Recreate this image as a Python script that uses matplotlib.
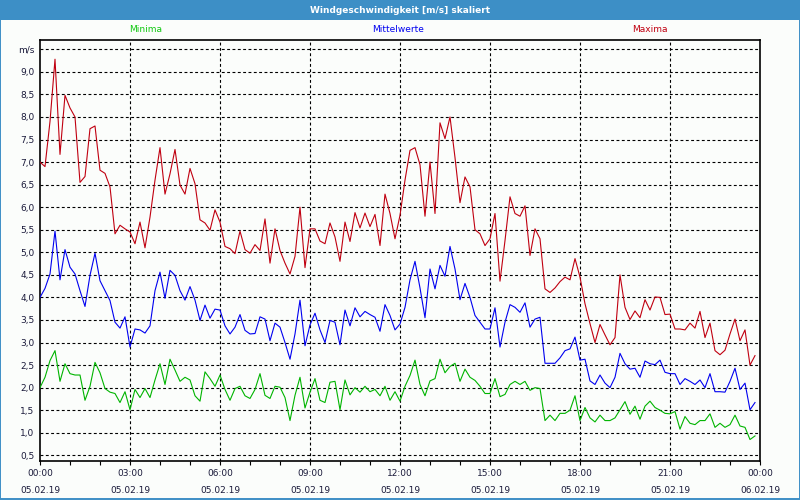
import numpy as np
import matplotlib
matplotlib.use("Agg")
import matplotlib.pyplot as plt
from matplotlib.patches import Rectangle

title = "Windgeschwindigkeit [m/s] skaliert"
series_names = ["Minima", "Mittelwerte", "Maxima"]

# 10-minute values, 05.02.19 00:00 .. 23:50
maxima = [7.0, 6.9, 7.9, 9.28, 7.17, 8.48, 8.2, 8.0, 6.55, 6.68,
          7.74, 7.8, 6.82, 6.75, 6.45, 5.41, 5.6, 5.52, 5.45, 5.19,
          5.67, 5.1, 5.78, 6.6, 7.32, 6.29, 6.74, 7.28, 6.49, 6.29,
          6.86, 6.52, 5.72, 5.65, 5.49, 5.94, 5.67, 5.13, 5.08, 4.97,
          5.47, 5.06, 4.98, 5.17, 5.04, 5.74, 4.76, 5.52, 5.04, 4.76,
          4.52, 4.91, 6.0, 4.66, 5.52, 5.52, 5.25, 5.19, 5.65, 5.34,
          4.8, 5.67, 5.24, 5.88, 5.54, 5.87, 5.57, 5.84, 5.15, 6.29,
          5.86, 5.3, 5.82, 6.6, 7.26, 7.32, 6.94, 5.8, 7.0, 5.86,
          7.87, 7.52, 8.0, 7.1, 6.1, 6.67, 6.45, 5.5, 5.41, 5.15,
          5.3, 5.86, 4.36, 5.26, 6.23, 5.86, 5.8, 6.03, 4.93, 5.52,
          5.3, 4.19, 4.11, 4.21, 4.35, 4.45, 4.39, 4.86, 4.45, 3.86,
          3.42, 3.0, 3.4, 3.17, 2.95, 3.11, 4.5, 3.78, 3.51, 3.7,
          3.55, 3.95, 3.72, 4.01, 4.0, 3.62, 3.63, 3.3, 3.3, 3.28,
          3.43, 3.32, 3.69, 3.11, 3.43, 2.82, 2.73, 2.83, 3.19, 3.52,
          3.04, 3.28, 2.5, 2.71]

mittel = [4.0, 4.2, 4.52, 5.47, 4.39, 5.06, 4.67, 4.52, 4.15, 3.8,
          4.49, 4.98, 4.37, 4.15, 3.93, 3.45, 3.32, 3.57, 2.9, 3.3,
          3.28, 3.21, 3.37, 4.15, 4.56, 3.98, 4.6, 4.49, 4.15, 3.94,
          4.24, 3.94, 3.49, 3.83, 3.54, 3.74, 3.72, 3.37, 3.19, 3.34,
          3.62, 3.27, 3.19, 3.2, 3.57, 3.52, 3.04, 3.43, 3.34, 3.0,
          2.63, 3.19, 3.94, 2.93, 3.39, 3.65, 3.28, 3.0, 3.49, 3.45,
          2.95, 3.72, 3.37, 3.77, 3.57, 3.69, 3.62, 3.56, 3.25, 3.84,
          3.6, 3.28, 3.41, 3.78, 4.39, 4.8, 4.21, 3.55, 4.63, 4.19,
          4.71, 4.47, 5.13, 4.63, 3.95, 4.31, 4.0, 3.6, 3.45, 3.3,
          3.3, 3.77, 2.9, 3.45, 3.84, 3.78, 3.67, 3.88, 3.34, 3.52,
          3.56, 2.54, 2.54, 2.54, 2.66, 2.82, 2.86, 3.12, 2.61, 2.63,
          2.15, 2.07, 2.28, 2.1, 2.0, 2.23, 2.76, 2.53, 2.41, 2.43,
          2.23, 2.59, 2.53, 2.51, 2.61, 2.34, 2.31, 2.31, 2.07, 2.2,
          2.14, 2.07, 2.17, 2.0, 2.31, 1.91, 1.91, 1.9, 2.14, 2.43,
          1.96, 2.1, 1.51, 1.67]

minima = [2.0, 2.23, 2.6, 2.82, 2.14, 2.53, 2.31, 2.28, 2.28, 1.72,
          2.03, 2.56, 2.33, 1.98, 1.9, 1.87, 1.67, 1.91, 1.51, 1.96,
          1.78, 1.98, 1.78, 2.17, 2.53, 2.07, 2.63, 2.39, 2.14, 2.23,
          2.17, 1.82, 1.7, 2.35, 2.2, 2.03, 2.28, 1.96, 1.72, 1.98,
          2.03, 1.82, 1.76, 1.96, 2.31, 1.83, 1.76, 2.03, 2.01, 1.78,
          1.27, 1.83, 2.23, 1.55, 1.9, 2.2, 1.72, 1.67, 2.12, 2.14,
          1.51, 2.17, 1.84, 2.0, 1.9, 2.03, 1.91, 1.96, 1.82, 2.03,
          1.72, 1.91, 1.7, 2.03, 2.27, 2.61, 2.07, 1.82, 2.15, 2.2,
          2.63, 2.33, 2.47, 2.54, 2.14, 2.41, 2.23, 2.16, 2.03, 1.87,
          1.87, 2.2, 1.8, 1.85, 2.07, 2.14, 2.07, 2.14, 1.94, 2.0,
          1.98, 1.27, 1.39, 1.27, 1.43, 1.43, 1.5, 1.82, 1.27, 1.56,
          1.33, 1.24, 1.39, 1.27, 1.27, 1.33, 1.51, 1.69, 1.41, 1.59,
          1.3, 1.59, 1.7, 1.56, 1.5, 1.43, 1.42, 1.47, 1.08, 1.36,
          1.21, 1.18, 1.27, 1.27, 1.42, 1.12, 1.21, 1.12, 1.18, 1.39,
          1.15, 1.12, 0.85, 0.93]

x_ticks = [0, 3, 6, 9, 12, 15, 18, 21, 24]
x_labels = ["00:00\n05.02.19", "03:00\n05.02.19", "06:00\n05.02.19",
            "09:00\n05.02.19", "12:00\n05.02.19", "15:00\n05.02.19",
            "18:00\n05.02.19", "21:00\n05.02.19", "00:00\n06.02.19"]
y_ticks = [0.5, 1.0, 1.5, 2.0, 2.5, 3.0, 3.5, 4.0, 4.5, 5.0,
           5.5, 6.0, 6.5, 7.0, 7.5, 8.0, 8.5, 9.0, 9.5]
y_labels = ["0,5", "1,0", "1,5", "2,0", "2,5", "3,0", "3,5", "4,0", "4,5", "5,0",
            "5,5", "6,0", "6,5", "7,0", "7,5", "8,0", "8,5", "9,0", "m/s"]

frame_blue = "#3d8fc6"
col_min = "#00b400"
col_mid = "#0000f0"
col_max = "#c00010"
txt = "#1a1a3a"
font = "DejaVu Sans"
fs = 6.5

hours = np.arange(len(maxima)) / 6.0

fig = plt.figure(figsize=(8, 5), dpi=100, facecolor="#fbfdfb")

# title bar and blue frame
fig.patches.append(Rectangle((0, 0.96), 1, 0.04, transform=fig.transFigure,
                             facecolor=frame_blue, edgecolor="none", zorder=0))
fig.patches.append(Rectangle((0.0006, 0.002), 0.9988, 0.99, transform=fig.transFigure,
                             facecolor="none", edgecolor=frame_blue, lw=1.4, zorder=0))
fig.text(0.5, 0.979, title, color="white", ha="center", va="center",
         fontsize=fs, fontweight="bold", family=font)

fig.text(146 / 800, 1 - 30 / 500, series_names[0], color="#10c810", ha="center", va="center",
         fontsize=fs, family=font)
fig.text(398 / 800, 1 - 30 / 500, series_names[1], color=col_mid, ha="center", va="center",
         fontsize=fs, family=font)
fig.text(650 / 800, 1 - 30 / 500, series_names[2], color=col_max, ha="center", va="center",
         fontsize=fs, family=font)

ax = fig.add_axes([40 / 800, 39 / 500, 720 / 800, 421 / 500])
ax.set_facecolor("#fbfdfb")

ax.plot(hours, maxima, color=col_max, lw=0.8, zorder=3)
ax.plot(hours, mittel, color=col_mid, lw=0.8, zorder=3)
ax.plot(hours, minima, color=col_min, lw=0.8, zorder=3)

ax.set_xlim(0, 24)
ax.set_ylim(0.374, 9.706)

for y in y_ticks:
    ax.axhline(y, color="black", lw=0.8, ls=(0, (2.6, 2.2)), zorder=1)
for x in x_ticks[1:-1]:
    ax.axvline(x, color="black", lw=0.8, ls=(0, (2.6, 2.2)), zorder=1)

ax.set_yticks(y_ticks)
ax.set_yticklabels(y_labels, fontsize=fs, color=txt, family=font)
ax.tick_params(axis="y", length=0, pad=4)

ax.set_xticks(x_ticks)
ax.set_xticklabels(x_labels, fontsize=fs, color=txt, family=font, linespacing=2.15)
ax.set_xticks(range(25), minor=True)
ax.tick_params(axis="x", which="both", length=3, width=0.8, color="black", pad=2.5, direction="out")

for s in ax.spines.values():
    s.set_color("black")
    s.set_linewidth(1.2)

fig.savefig("out.png", dpi=100, facecolor=fig.get_facecolor())
